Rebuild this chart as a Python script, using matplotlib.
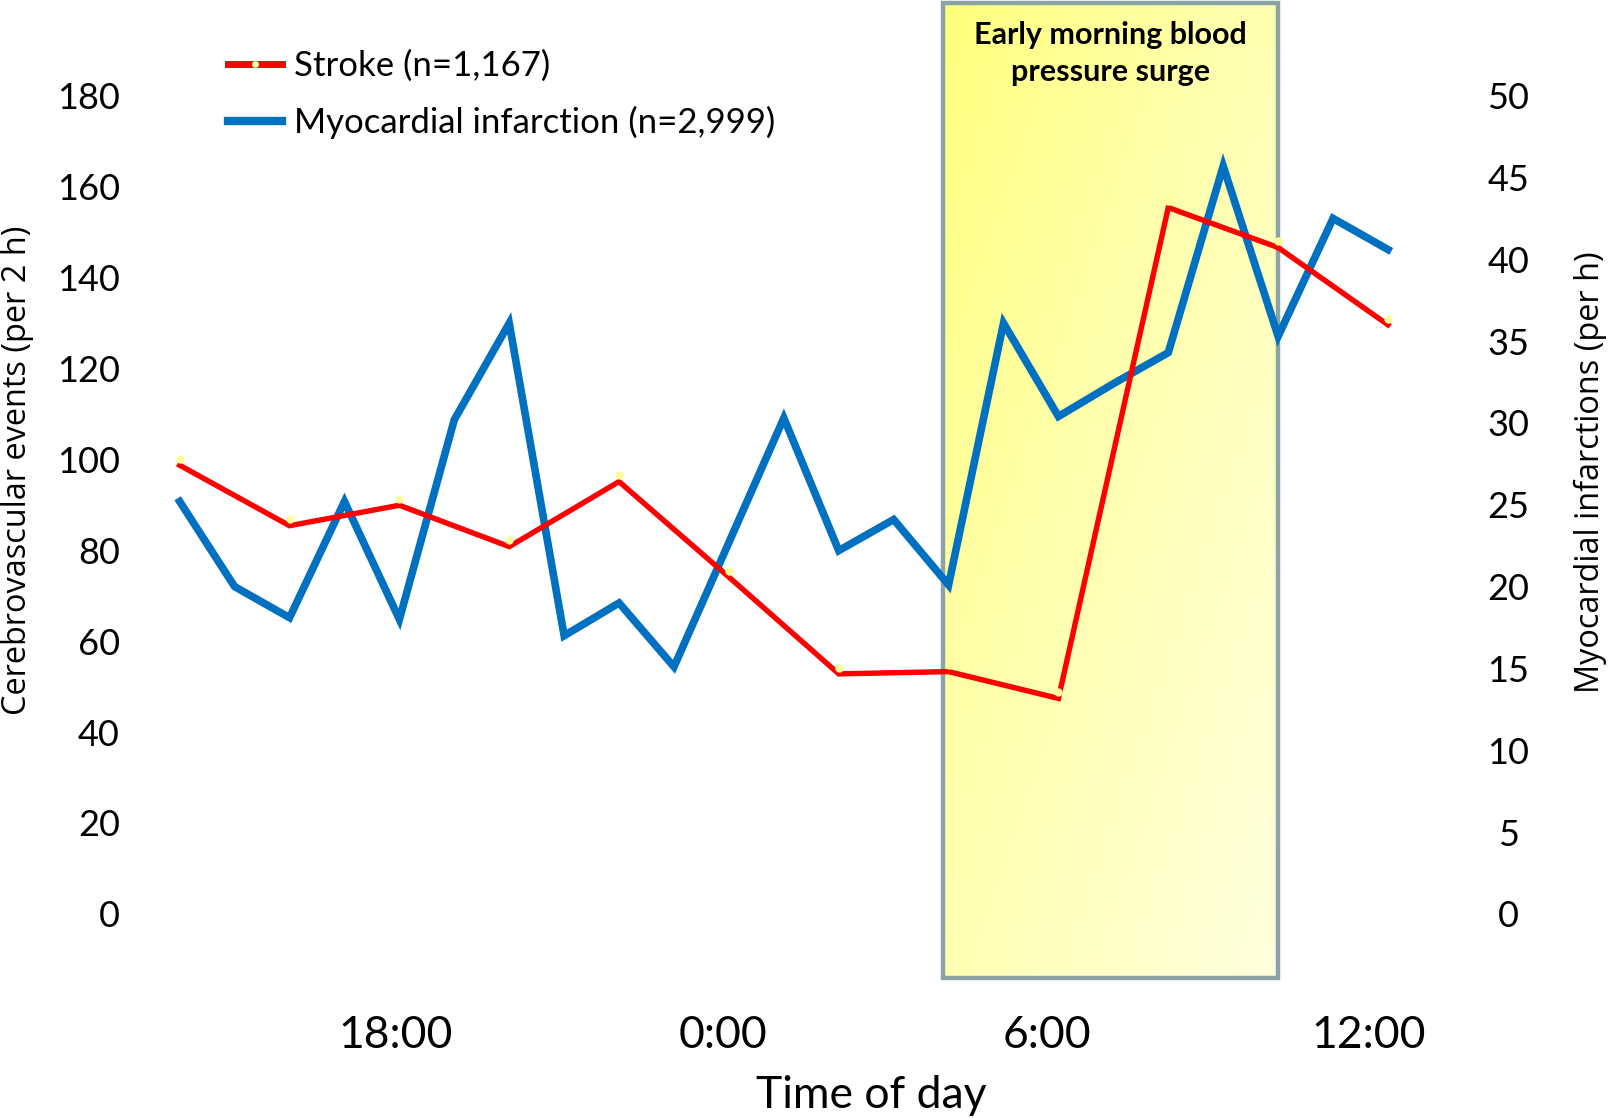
import matplotlib
matplotlib.use("Agg")
import matplotlib.pyplot as plt
import numpy as np
from matplotlib import font_manager
from matplotlib.lines import Line2D
from matplotlib.patches import Rectangle
from matplotlib.transforms import offset_copy

# x = hours after 14:00
stroke_hours = [0, 2, 4, 6, 8, 10, 12, 14, 16, 18, 20, 22]
stroke_counts = [98.7, 85.4, 89.9, 80.8, 95.1, 74.1, 52.8, 53.3, 47.4, 155.4, 146.6, 129.6]

mi_hours = list(range(23))
mi_counts = [25.2, 20.0, 18.1, 25.2, 18.0, 30.2, 36.1, 17.0, 19.0, 15.1, 22.7, 30.3,
             22.2, 24.1, 20.1, 36.1, 30.4, 32.4, 34.3, 45.7, 35.3, 42.5, 40.6]

left_ticks = [0, 20, 40, 60, 80, 100, 120, 140, 160, 180]
right_ticks = [0, 5, 10, 15, 20, 25, 30, 35, 40, 45, 50]
time_ticks = [3.94, 9.89, 15.79, 21.64]
time_labels = ["18:00", "0:00", "6:00", "12:00"]
surge_window = (13.9, 20.0)

names = {f.name for f in font_manager.fontManager.ttflist}
narrow = "Liberation Sans Narrow" if "Liberation Sans Narrow" in names else "Lato"
label_font = "Open Sans"

RED = "#FF0000"
BLUE = "#0070C0"

fig = plt.figure(figsize=(16.1, 11.18), dpi=100)
fig.set_facecolor("white")
ax = fig.add_axes([0.0775, 0.12567, 0.8187, 0.87165])
ax2 = ax.twinx()
ax.set_zorder(ax2.get_zorder() + 1)
ax.patch.set_visible(False)

ylim_left = (-14.0, 200.4)
ylim_right = (ylim_left[0] * 50 / 180, ylim_left[1] * 50 / 180)
xlim = (-1, 23)

# surge box with diagonal gradient (drawn on the lower axes)
x0, x1 = surge_window
u = np.linspace(0, 1, 200)
U, V = np.meshgrid(u, u)
t = np.clip((U + V) / 2, 0, 1) ** 0.8
c0 = np.array([255, 255, 120]) / 255
c1 = np.array([255, 255, 222]) / 255
grad = c0[None, None, :] * (1 - t[..., None]) + c1[None, None, :] * t[..., None]
ax2.imshow(grad, extent=(x0, x1, ylim_right[0], ylim_right[1]), aspect="auto",
           origin="upper", zorder=0, interpolation="bilinear")
ax2.add_patch(Rectangle((x0, ylim_right[0]), x1 - x0, ylim_right[1] - ylim_right[0],
                        fill=False, edgecolor="#8BA2A6", lw=3.2, zorder=1, clip_on=False))
ax2.text((x0 + x1) / 2, ylim_right[1] - 1.1, "Early morning blood\npressure surge",
         ha="center", va="top", fontsize=22, fontweight="bold", family=narrow,
         linespacing=1.4, zorder=2)

ax2.plot(mi_hours, mi_counts, color=BLUE, lw=5.5, zorder=3, solid_joinstyle="miter")
ax.plot(stroke_hours, stroke_counts, color=RED, lw=3.9, zorder=3, solid_joinstyle="miter")
ax.plot(stroke_hours, stroke_counts, ls="none", marker="o", ms=6,
        markerfacecolor="#FFFF99", markeredgecolor="none", zorder=4,
        transform=offset_copy(ax.transData, fig=fig, x=0, y=4.5, units="points"))

ax.set_xlim(*xlim)
ax.set_ylim(*ylim_left)
ax2.set_ylim(*ylim_right)

for a in (ax, ax2):
    for s in a.spines.values():
        s.set_visible(False)
    a.tick_params(length=0)

ax.set_yticks(left_ticks, labels=[str(v) for v in left_ticks], family=narrow, fontsize=26)
ax.tick_params(axis="y", pad=3.5)
ax2.set_yticks(right_ticks, labels=[str(v) for v in right_ticks], family=narrow,
               fontsize=26, ha="center")
ax2.tick_params(axis="y", pad=47)
ax.set_xticks(time_ticks, labels=time_labels, family=narrow, fontsize=32)
ax.tick_params(axis="x", pad=27)

ax.set_ylabel("Cerebrovascular events (per 2 h)", family=label_font, fontsize=23.4)
ax.yaxis.set_label_coords(-0.0689, 0.5208, transform=ax.transAxes)
ax2.set_ylabel("Myocardial infarctions (per h)", family=label_font, fontsize=23.4)
ax2.yaxis.set_label_coords(1.0995, 0.519, transform=ax2.transAxes)
ax.set_xlabel("Time of day", family=narrow, fontsize=32)
ax.xaxis.set_label_coords(0.566, -0.1, transform=ax.transAxes)

handles = [
    Line2D([], [], color=RED, lw=5, marker="o", ms=5, markerfacecolor="#FFFF99",
           markeredgecolor="none"),
    Line2D([], [], color=BLUE, lw=6),
]
fig.legend(handles, ["Stroke (n=1,167)", "Myocardial infarction (n=2,999)"],
           loc="upper left", bbox_to_anchor=(228 / 1610, 1 - 50 / 1118), frameon=False,
           prop={"family": narrow, "size": 25}, handlelength=1.55, handletextpad=0.35,
           labelspacing=0.68, borderpad=0, borderaxespad=0)

fig.savefig("out.png", dpi=100)
